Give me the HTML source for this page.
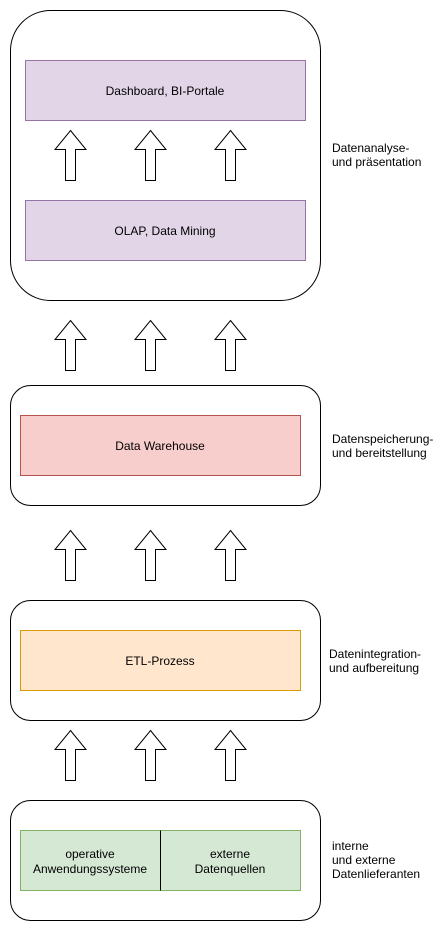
<!DOCTYPE html>
<html><head><meta charset="utf-8"><style>
body{margin:0;background:#fff;}
svg text{font-family:"Liberation Sans",Arial,sans-serif;font-size:12px;fill:#000;}
</style></head><body>
<svg width="444" height="931" xmlns="http://www.w3.org/2000/svg">
<defs>
<path id="ar" d="M0,0 L15.5,19 L5,19 L5,50 L-5,50 L-5,19 L-15.5,19 Z" fill="#fff" stroke="#000" stroke-width="1"/>
</defs>
<g fill="#fff" stroke="#000" stroke-width="1">
<rect x="10.5" y="10.5" width="310" height="290" rx="40"/>
<rect x="10.5" y="385.5" width="310" height="120" rx="20"/>
<rect x="10.5" y="600.5" width="310" height="120" rx="20"/>
<rect x="10.5" y="800.5" width="310" height="120" rx="20"/>
</g>
<rect x="25.5" y="60.5" width="280" height="60" fill="#e1d5e7" stroke="#9673a6"/>
<rect x="25.5" y="200.5" width="280" height="60" fill="#e1d5e7" stroke="#9673a6"/>
<rect x="20.5" y="415.5" width="280" height="60" fill="#f8cecc" stroke="#b85450"/>
<rect x="20.5" y="630.5" width="280" height="60" fill="#ffe6cc" stroke="#d79b00"/>
<rect x="20.5" y="830.5" width="280" height="60" fill="#d5e8d4" stroke="#82b366"/>
<line x1="160.5" y1="830.5" x2="160.5" y2="890.5" stroke="#000"/>
<g>
<use href="#ar" x="70.5" y="130.5"/><use href="#ar" x="150.5" y="130.5"/><use href="#ar" x="230.5" y="130.5"/>
<use href="#ar" x="70.5" y="320.5"/><use href="#ar" x="150.5" y="320.5"/><use href="#ar" x="230.5" y="320.5"/>
<use href="#ar" x="70.5" y="530.5"/><use href="#ar" x="150.5" y="530.5"/><use href="#ar" x="230.5" y="530.5"/>
<use href="#ar" x="70.5" y="730.5"/><use href="#ar" x="150.5" y="730.5"/><use href="#ar" x="230.5" y="730.5"/>
</g>
<g text-anchor="middle">
<text x="165" y="95">Dashboard, BI-Portale</text>
<text x="165" y="235">OLAP, Data Mining</text>
<text x="160" y="450">Data Warehouse</text>
<text x="160" y="665">ETL-Prozess</text>
<text x="90" y="858">operative</text>
<text x="90" y="873">Anwendungssysteme</text>
<text x="230" y="858">externe</text>
<text x="230" y="873">Datenquellen</text>
</g>
<text x="332" y="152">Datenanalyse-</text>
<text x="332" y="166">und präsentation</text>
<text x="332" y="443">Datenspeicherung-</text>
<text x="332" y="457">und bereitstellung</text>
<text x="329" y="658">Datenintegration-</text>
<text x="329" y="672">und aufbereitung</text>
<text x="332" y="850">interne</text>
<text x="332" y="864">und externe</text>
<text x="332" y="878">Datenlieferanten</text>
</svg>
</body></html>
